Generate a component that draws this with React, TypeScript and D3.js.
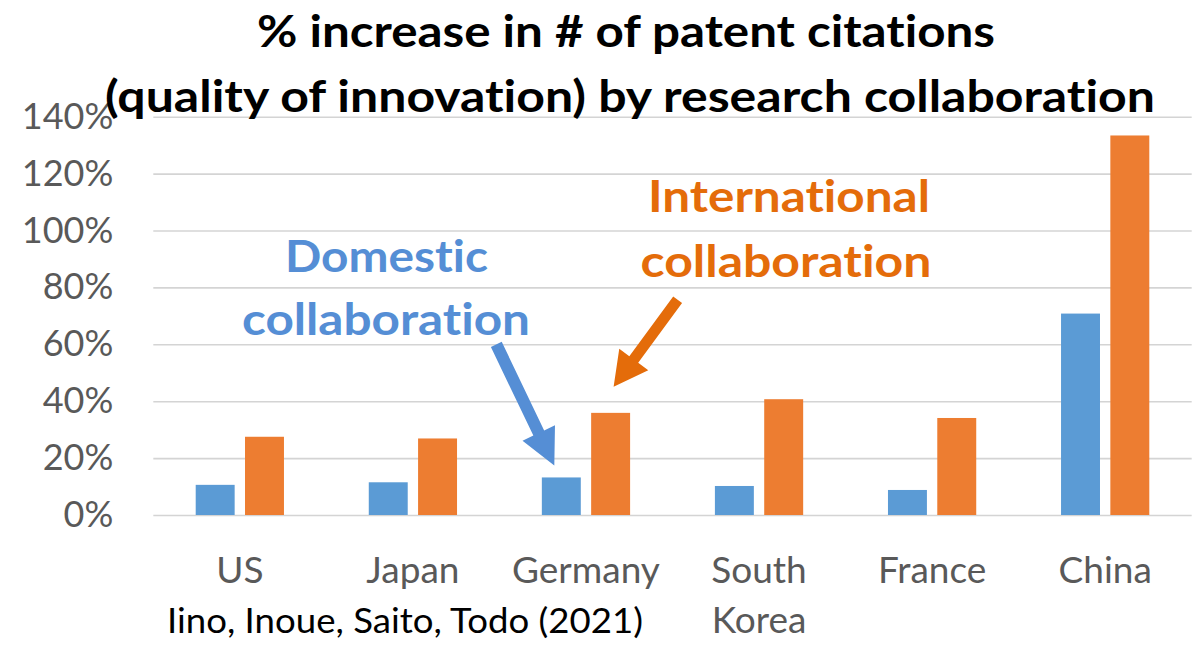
import React, { useEffect, useRef } from "react";
import * as d3 from "d3";

// chart data
const categories = ["US", "Japan", "Germany", "South Korea", "France", "China"];
const domestic = [10.6, 11.5, 13.2, 10.2, 8.8, 70.8];
const international = [27.5, 26.9, 35.9, 40.7, 34.1, 133.4];
const seriesKeys = ["Domestic", "International"];
const yTicks = [0, 20, 40, 60, 80, 100, 120, 140];

const titleLines = [
  "% increase in # of patent citations",
  "(quality of innovation) by research collaboration",
];
const citation = "Iino, Inoue, Saito, Todo (2021)";

const BLUE = "#5B9BD5";
const ORANGE = "#ED7D31";
const BLUE_TEXT = "#558ED5";
const ORANGE_TEXT = "#E46C0A";
const FONT = "Lato, 'Open Sans', sans-serif";

// polygon for a thick arrow going from (x1,y1) to the tip (x2,y2)
const arrowPoints = (x1, y1, x2, y2, shaftW, headL, headW) => {
  const dx = x2 - x1;
  const dy = y2 - y1;
  const len = Math.sqrt(dx * dx + dy * dy);
  const ux = dx / len;
  const uy = dy / len;
  const px = -uy;
  const py = ux;
  const bx = x2 - ux * headL;
  const by = y2 - uy * headL;
  const pts = [
    [x1 + px * shaftW / 2, y1 + py * shaftW / 2],
    [bx + px * shaftW / 2, by + py * shaftW / 2],
    [bx + px * headW / 2, by + py * headW / 2],
    [x2, y2],
    [bx - px * headW / 2, by - py * headW / 2],
    [bx - px * shaftW / 2, by - py * shaftW / 2],
    [x1 - px * shaftW / 2, y1 - py * shaftW / 2],
  ];
  return pts.map((p) => p.join(",")).join(" ");
};

const App = () => {
  const width = 1199;
  const height = 646;
  const MARGIN = { top: 116.7, right: 7.3, bottom: 131, left: 153.3 };
  const boundsWidth = width - MARGIN.left - MARGIN.right;
  const boundsHeight = height - MARGIN.top - MARGIN.bottom;

  const axesRef = useRef(null);

  const xScale = d3.scaleBand().domain(categories).range([0, boundsWidth]);
  const xSub = d3
    .scaleBand()
    .domain(seriesKeys)
    .range([xScale.bandwidth() * 0.245, xScale.bandwidth() * 0.755])
    .paddingInner(0.21);
  const yScale = d3.scaleLinear().domain([0, 140]).range([boundsHeight, 0]);

  useEffect(() => {
    const g = d3.select(axesRef.current);
    g.selectAll("*").remove();
    const yAxis = d3
      .axisLeft(yScale)
      .tickValues(yTicks)
      .tickSize(-boundsWidth)
      .tickPadding(40)
      .tickFormat((d) => d + "%");
    g.call(yAxis);
    g.select(".domain").remove();
    g.selectAll(".tick line").attr("stroke", "#D4D4D4").attr("stroke-width", 1.6);
    g.selectAll(".tick text")
      .attr("fill", "#595959")
      .style("font-family", FONT)
      .style("font-size", "36px");
  }, [xScale, yScale, boundsWidth]);

  const bars = categories.map((c, i) => {
    const vals = [domestic[i], international[i]];
    return (
      <g key={c} transform={`translate(${xScale(c)},0)`}>
        {seriesKeys.map((k, j) => (
          <rect
            key={k}
            x={xSub(k)}
            y={yScale(vals[j])}
            width={xSub.bandwidth()}
            height={boundsHeight - yScale(vals[j])}
            fill={j === 0 ? BLUE : ORANGE}
          />
        ))}
      </g>
    );
  });

  const xLabels = categories.map((c) => {
    const cx = xScale(c) + xScale.bandwidth() / 2;
    const lines = c.split(" ");
    return (
      <text
        key={c}
        x={cx}
        y={boundsHeight + 68}
        textAnchor="middle"
        fill="#595959"
        fontFamily={FONT}
        fontSize={37}
      >
        {lines.map((l, i) => (
          <tspan key={l} x={cx} dy={i === 0 ? 0 : 50}>
            {l}
          </tspan>
        ))}
      </text>
    );
  });

  // arrows pointing at the Germany bars
  const gBlueX = xScale("Germany") + xSub("Domestic") + xSub.bandwidth() / 2;
  const gOrangeX = xScale("Germany") + xSub("International") + xSub.bandwidth() / 2;
  const blueTip = [gBlueX - 7, yScale(domestic[2]) - 12];
  const orangeTip = [gOrangeX + 3, yScale(international[2]) - 26];

  return (
    <svg
      width={width}
      height={height}
      style={{
        position: "absolute",
        left: 0,
        top: 0,
        background: "#fff",
        fontVariantLigatures: "none",
        fontFeatureSettings: "'liga' 0, 'clig' 0",
      }}
    >
      <g transform={`translate(${MARGIN.left},${MARGIN.top})`} ref={axesRef} />
      <g transform={`translate(${MARGIN.left},${MARGIN.top})`}>
        {bars}
        {xLabels}
        <polygon
          points={arrowPoints(blueTip[0] - 58, blueTip[1] - 121, blueTip[0], blueTip[1], 12, 36, 36)}
          fill={BLUE_TEXT}
        />
        <polygon
          points={arrowPoints(orangeTip[0] + 64, orangeTip[1] - 87, orangeTip[0], orangeTip[1], 11, 34, 36)}
          fill={ORANGE_TEXT}
        />
      </g>

      {/* title */}
      <g fontFamily={FONT} fontWeight="bold" fontSize={44} fill="#000">
        <text x={626} y={47} textAnchor="middle" textLength={738} lengthAdjust="spacingAndGlyphs">
          {titleLines[0]}
        </text>
        <text x={630} y={112} textAnchor="middle" textLength={1050} lengthAdjust="spacingAndGlyphs">
          {titleLines[1]}
        </text>
      </g>

      {/* annotations */}
      <g fontFamily={FONT} fontWeight="bold" fontSize={44} textAnchor="middle">
        <text x={386.5} y={272} fill={BLUE_TEXT} textLength={203} lengthAdjust="spacingAndGlyphs">
          Domestic
        </text>
        <text x={386} y={335} fill={BLUE_TEXT} textLength={288} lengthAdjust="spacingAndGlyphs">
          collaboration
        </text>
        <text x={789} y={212} fill={ORANGE_TEXT} textLength={282} lengthAdjust="spacingAndGlyphs">
          International
        </text>
        <text x={786} y={277} fill={ORANGE_TEXT} textLength={291} lengthAdjust="spacingAndGlyphs">
          collaboration
        </text>
      </g>

      <text
        x={167}
        y={633}
        fontFamily={FONT}
        fontSize={34}
        fill="#000"
        textLength={476}
        lengthAdjust="spacingAndGlyphs"
      >
        {citation}
      </text>
    </svg>
  );
};

export default App;
